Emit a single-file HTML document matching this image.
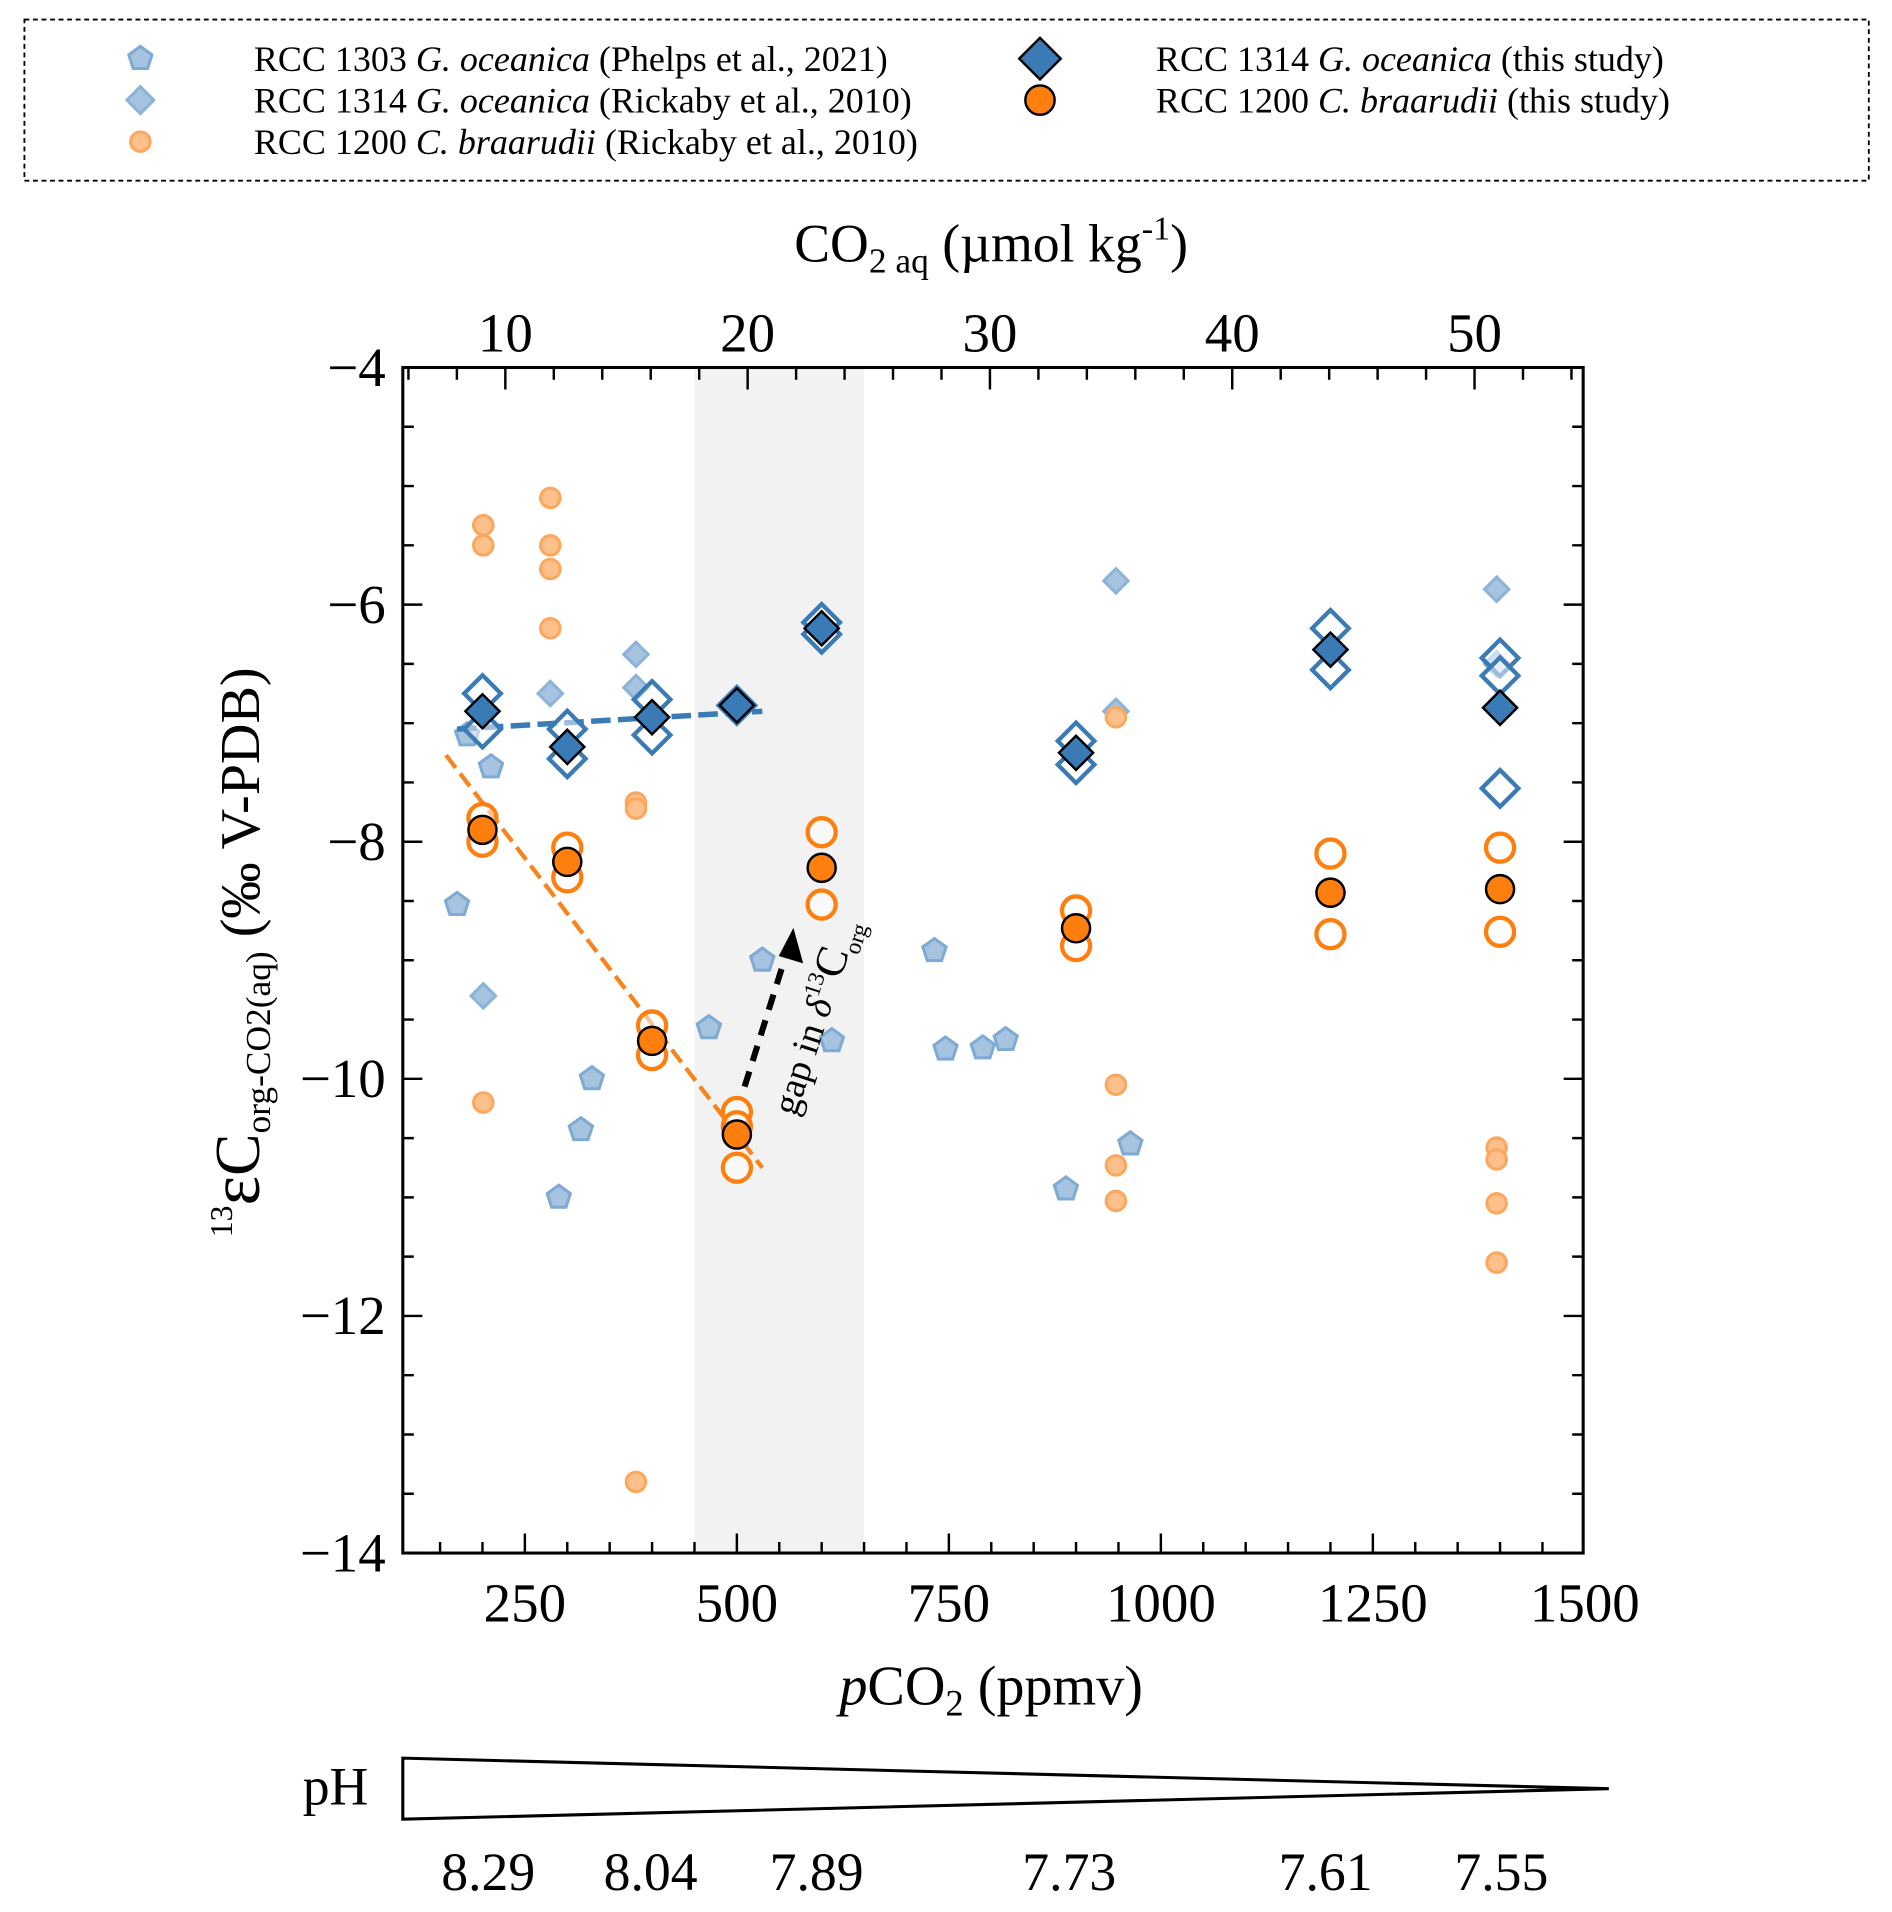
<!DOCTYPE html>
<html><head><meta charset="utf-8">
<style>
html,body{margin:0;padding:0;background:#fff;}
svg{display:block;font-family:"Liberation Serif",serif;}
</style></head>
<body>
<svg id="chart" width="1892" height="1912" viewBox="0 0 1550 1566" preserveAspectRatio="none" xmlns="http://www.w3.org/2000/svg">
  <g id="legend">
    <rect x="20" y="16" width="1511" height="132" fill="none" stroke="#000" stroke-width="1.5" stroke-dasharray="4,3"/>
  </g>
  <text x="812" y="214" font-size="44" text-anchor="middle">CO<tspan font-size="29" dy="9">2 aq</tspan><tspan dy="-9"> (µmol kg</tspan><tspan font-size="28" dy="-18">-1</tspan><tspan dy="18">)</tspan></text>
  <rect id="shade" fill="#f2f2f2"/>
  <g id="marks"></g>
  <g id="axes"></g>
  <text x="812" y="1396" font-size="46" text-anchor="middle"><tspan font-style="italic">p</tspan>CO<tspan font-size="30" dy="9">2</tspan><tspan dy="-9"> (ppmv)</tspan></text>
  <text transform="translate(212,780) rotate(-90)" font-size="46" text-anchor="middle"><tspan font-size="26" dy="-22">13</tspan><tspan font-size="58" dy="22">ε</tspan><tspan font-size="52">C</tspan><tspan font-size="29" dy="9">org-CO2(aq)</tspan><tspan dy="-9"> (‰ V-PDB)</tspan></text>
  <g>
    <polygon points="330,1440 1318,1465 330,1490" fill="#fff" stroke="#000" stroke-width="2.5"/>
    <text x="248" y="1478" font-size="44">pH</text>
    <g id="phlabels" font-size="44" text-anchor="middle"></g>
  </g>
</svg>
<script>
const NS="http://www.w3.org/2000/svg";
// data
const xTicks=[250,500,750,1000,1250,1500];
const yTicks=[-4,-6,-8,-10,-12,-14];
const topTicks=[10,20,30,40,50];
const phLabels=["8.29","8.04","7.89","7.73","7.61","7.55"];
const phX=[400,533,669,876,1086,1230];
const studyPco2=[200,300,400,500,600,900,1200,1400];
const goFilled=[-6.9,-7.2,-6.95,-6.85,-6.2,-7.25,-6.38,-6.87];
const goOpenX=[200,200,300,300,400,400,500,600,600,900,900,1200,1200,1400,1400,1400];
const goOpenY=[-6.75,-7.05,-7.05,-7.3,-6.8,-7.1,-6.85,-6.15,-6.25,-7.15,-7.35,-6.2,-6.55,-6.45,-6.6,-7.55];
const cbFilled=[-7.9,-8.17,-9.68,-10.47,-8.22,-8.73,-8.43,-8.4];
const cbOpenX=[200,200,300,300,400,400,500,500,500,600,600,900,900,1200,1200,1400,1400];
const cbOpenY=[-7.8,-8.0,-8.05,-8.3,-9.55,-9.8,-10.28,-10.4,-10.75,-7.92,-8.53,-8.58,-8.88,-8.1,-8.78,-8.05,-8.76];
const rcbX=[201,201,201,280,280,280,280,381,381,381,947,947,947,947,1396,1396,1396,1396];
const rcbY=[-5.33,-5.5,-10.2,-5.1,-5.5,-5.7,-6.2,-7.67,-7.72,-13.4,-6.95,-10.05,-10.73,-11.03,-10.58,-10.68,-11.05,-11.55];
const rgoX=[201,280,381,381,947,947,1396,1396];
const rgoY=[-9.3,-6.75,-6.42,-6.7,-5.8,-6.9,-5.87,-6.5];
const phX_ppm=[182,210,170,290,316,329,467,530,612,733,746,790,817,888,964];
const phY=[-7.1,-7.37,-8.53,-11.0,-10.43,-10.0,-9.57,-9.0,-9.68,-8.92,-9.75,-9.74,-9.67,-10.93,-10.55];
const blueFit=[[170,-7.05],[530,-6.9]];
const orangeFit=[[157,-7.27],[530,-10.75]];
const gap=[450,650];

const L=330,R=1297,T=301,B=1272;
const X=p=>430+(p-250)*0.6947;
const Y=v=>T+(v+4)*(-(B-T)/10);
const XT=c=>414+(c-10)*19.85;
const svg=document.getElementById('chart');
function el(tag,attrs,parent){const e=document.createElementNS(NS,tag);for(const k in attrs)e.setAttribute(k,attrs[k]);(parent||svg).appendChild(e);return e;}
const marks=document.getElementById('marks'),axes=document.getElementById('axes');

const sh=document.getElementById('shade');
sh.setAttribute('x',X(gap[0]));sh.setAttribute('y',T);sh.setAttribute('width',X(gap[1])-X(gap[0]));sh.setAttribute('height',B-T);

function diamond(cx,cy,r,attrs,parent,name){const e=el('polygon',Object.assign({points:`${cx},${cy-r} ${cx+r},${cy} ${cx},${cy+r} ${cx-r},${cy}`},attrs),parent);

return e;}
function pent(cx,cy,r,attrs,parent,name){let pts=[];for(let i=0;i<5;i++){const a=-Math.PI/2+i*2*Math.PI/5;pts.push((cx+r*Math.cos(a)).toFixed(1)+','+(cy+r*Math.sin(a)).toFixed(1));}
const e=el('polygon',Object.assign({points:pts.join(' ')},attrs),parent);

return e;}
function circ(cx,cy,r,attrs,parent,name){const e=el('circle',Object.assign({cx,cy,r},attrs),parent);

return e;}

phX_ppm.forEach((p,i)=>pent(X(p),Y(phY[i]),10,{fill:'#a6c3e0',stroke:'#7faad3','stroke-width':2.5},marks,'phelps-point'));
rgoX.forEach((p,i)=>diamond(X(p),Y(rgoY[i]),10,{fill:'#a6c3e0',stroke:'#8cb3da','stroke-width':2.5},marks,'rickaby-go-point'));
rcbX.forEach((p,i)=>circ(X(p),Y(rcbY[i]),8,{fill:'#fdc08a',stroke:'#fca75e','stroke-width':2.5},marks,'rickaby-cb-point'));
const bf=el('line',{x1:X(blueFit[0][0]),y1:Y(blueFit[0][1]),x2:X(blueFit[1][0]),y2:Y(blueFit[1][1]),stroke:'#3a7ab5','stroke-width':4.5,'stroke-dasharray':'16,6'},marks);


const of=el('line',{x1:X(orangeFit[0][0]),y1:Y(orangeFit[0][1]),x2:X(orangeFit[1][0]),y2:Y(orangeFit[1][1]),stroke:'#f7841e','stroke-width':3.5,'stroke-dasharray':'13,6'},marks);


goOpenX.forEach((p,i)=>diamond(X(p),Y(goOpenY[i]),15,{fill:'#fff','fill-opacity':0.5,stroke:'#3a7ab5','stroke-width':3.5},marks,'go-replicate'));
cbOpenX.forEach((p,i)=>circ(X(p),Y(cbOpenY[i]),11.5,{fill:'#fff','fill-opacity':0.5,stroke:'#ff7f0e','stroke-width':3.5},marks,'cb-replicate'));
studyPco2.forEach((p,i)=>diamond(X(p),Y(goFilled[i]),14,{fill:'#3a7ab5',stroke:'#000','stroke-width':2},marks,'go-mean'));
studyPco2.forEach((p,i)=>circ(X(p),Y(cbFilled[i]),11.5,{fill:'#ff7f0e',stroke:'#000','stroke-width':2},marks,'cb-mean'));
const ar=el('line',{x1:610,y1:890,x2:643,y2:785,stroke:'#000','stroke-width':5,'stroke-dasharray':'13,9'},marks);


const ah=el('polygon',{points:'650,760 658,789 638,783',fill:'#000'},marks);


const at=el('text',{transform:'translate(652,915) rotate(-72)','font-size':31},marks);


at.innerHTML='gap in <tspan font-style="italic">δ</tspan><tspan font-size="19" dy="-13">13</tspan><tspan dy="13" font-size="36">C</tspan><tspan font-size="19" dy="8">org</tspan>';

const fr=el('rect',{x:L,y:T,width:R-L,height:B-T,fill:'none',stroke:'#000','stroke-width':2.5},axes);


let d='';
for(let p=150;p<=1500;p+=50){const x=X(p);if(x<L||x>R)continue;const len=p%250===0?16:9;d+=`M${x},${B}v${-len}`;}
for(let c=6;c<=54;c+=2){const x=XT(c);if(x<L||x>R)continue;const len=c%10===0?18:10;d+=`M${x},${T}v${len}`;}
for(let v=-4;v>=-14;v-=0.5){const y=Y(v);const len=Number.isInteger(v/2)?16:9;d+=`M${L},${y}h${len}M${R},${y}h${-len}`;}
const tk=el('path',{d,stroke:'#000','stroke-width':2,fill:'none'},axes);


xTicks.forEach(v=>{const t=el('text',{x:X(v),y:1328,'font-size':45,'text-anchor':'middle'},axes);t.textContent=v;

});
topTicks.forEach(v=>{const t=el('text',{x:XT(v),y:288,'font-size':45,'text-anchor':'middle'},axes);t.textContent=v;

});
yTicks.forEach(v=>{const t=el('text',{x:316,y:Y(v)+15,'font-size':45,'text-anchor':'end'},axes);t.textContent='−'+Math.abs(v);

});
const phg=document.getElementById('phlabels');
phLabels.forEach((s,i)=>{const t=el('text',{x:phX[i],y:1548},phg);t.textContent=s;

});

const lg=document.getElementById('legend');
const ent=[
 {x:115,y:48,tx:208,k:'pent',a:'RCC 1303 ',i:'G. oceanica',b:' (Phelps et al., 2021)'},
 {x:115,y:82,tx:208,k:'rdia',a:'RCC 1314 ',i:'G. oceanica',b:' (Rickaby et al., 2010)'},
 {x:115,y:116,tx:208,k:'rcir',a:'RCC 1200 ',i:'C. braarudii',b:' (Rickaby et al., 2010)'},
 {x:852,y:48,tx:947,k:'dia',a:'RCC 1314 ',i:'G. oceanica',b:' (this study)'},
 {x:852,y:82,tx:947,k:'cir',a:'RCC 1200 ',i:'C. braarudii',b:' (this study)'}];
ent.forEach(e=>{
 if(e.k==='pent')pent(e.x,e.y,10,{fill:'#a6c3e0',stroke:'#7faad3','stroke-width':2.5},lg,'legend-marker');
 if(e.k==='rdia')diamond(e.x,e.y,11,{fill:'#a6c3e0',stroke:'#8cb3da','stroke-width':2.5},lg,'legend-marker');
 if(e.k==='rcir')circ(e.x,e.y,8,{fill:'#fdc08a',stroke:'#fca75e','stroke-width':2.5},lg,'legend-marker');
 if(e.k==='dia')diamond(e.x,e.y,17,{fill:'#3a7ab5',stroke:'#000','stroke-width':2},lg,'legend-marker');
 if(e.k==='cir')circ(e.x,e.y,12,{fill:'#ff7f0e',stroke:'#000','stroke-width':2},lg,'legend-marker');
 const t=el('text',{x:e.tx,y:e.y+10,'font-size':29.5},lg);
 
 
 t.innerHTML=e.a+'<tspan font-style="italic">'+e.i+'</tspan>'+e.b;
});
</script>
</body></html>
